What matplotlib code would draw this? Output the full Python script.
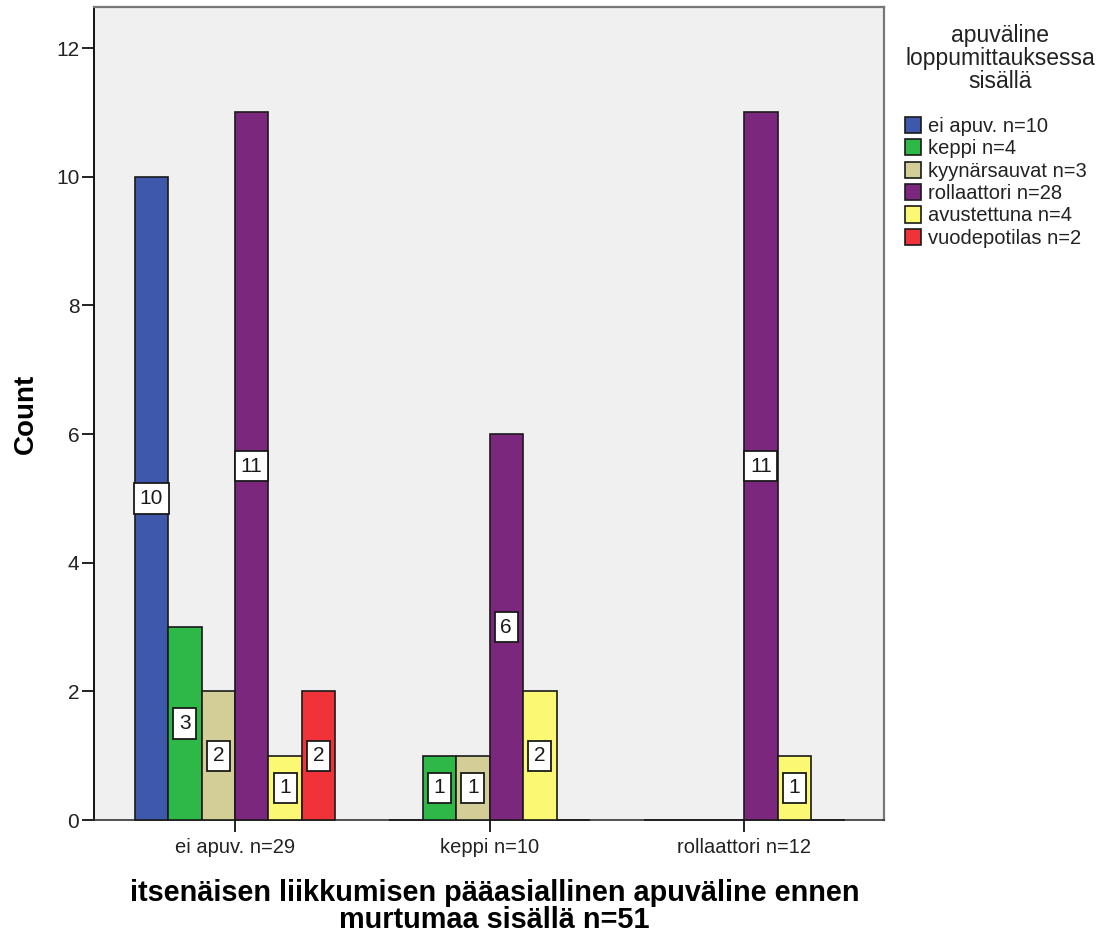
import numpy as np
import matplotlib
matplotlib.use('Agg')
import matplotlib.pyplot as plt

plt.rcParams['font.family'] = ['Liberation Sans', 'DejaVu Sans']

groups = ['ei apuv. n=29', 'keppi n=10', 'rollaattori n=12']
series = ['ei apuv. n=10', 'keppi n=4', 'kyynärsauvat n=3',
          'rollaattori n=28', 'avustettuna n=4', 'vuodepotilas n=2']
counts = {
    'ei apuv. n=10':    [10, 0, 0],
    'keppi n=4':        [3, 1, 0],
    'kyynärsauvat n=3': [2, 1, 0],
    'rollaattori n=28': [11, 6, 11],
    'avustettuna n=4':  [1, 2, 1],
    'vuodepotilas n=2': [2, 0, 0],
}
colors = ['#3E58AC', '#2EB848', '#D3CE97', '#7B277D', '#FBF873', '#EF3338']

W = 0.1316
x = np.arange(len(groups))

fig = plt.figure(figsize=(11.19, 9.34), dpi=100)
ax = fig.add_axes([0.084, 0.122, 0.706, 0.8705])
ax.set_facecolor('#F0F0F0')

for i, s in enumerate(series):
    off = (i - 2.5) * W
    vals = counts[s]
    ax.bar(x + off, vals, W, color=colors[i], edgecolor='#1a1a1a', lw=1.2,
           label=s, zorder=3, clip_on=False)
    for xi, v in zip(x, vals):
        if v > 0:
            ax.text(xi + off, v / 2, str(v), ha='center', va='center', fontsize=15,
                    color='#1a1a1a', zorder=4,
                    bbox=dict(boxstyle='square,pad=0.27', fc='white', ec='#1a1a1a', lw=1.3))

ax.set_xlim(-0.554, 2.55)
ax.set_ylim(0, 12.64)
ax.set_yticks([0, 2, 4, 6, 8, 10, 12])
ax.set_xticks(x)
ax.set_xticklabels(groups)
ax.tick_params(axis='both', length=8.6, width=1.4, color='#222222', labelcolor='#222222')
ax.tick_params(axis='y', labelsize=15, pad=2)
ax.tick_params(axis='x', labelsize=14.5, pad=4)
ax.spines['left'].set_color('#111111'); ax.spines['left'].set_linewidth(1.4)
ax.spines['bottom'].set_color('#333333'); ax.spines['bottom'].set_linewidth(1.2)
for sp in ('top', 'right'):
    ax.spines[sp].set_color('#777777'); ax.spines[sp].set_linewidth(1.6)

ax.set_ylabel('Count', fontsize=20, fontweight='bold')
ax.yaxis.set_label_coords(-0.070, 0.5)
ax.set_xlabel('itsenäisen liikkumisen pääasiallinen apuväline ennen\nmurtumaa sisällä n=51',
              fontsize=20.8, fontweight='bold', linespacing=0.93)
ax.xaxis.set_label_coords(0.507, -0.073)

fig.text(0.894, 0.974, 'apuväline\nloppumittauksessa\nsisällä', ha='center', va='top',
         fontsize=16.5, color='#222222', linespacing=0.98, multialignment='center')
leg = fig.legend(loc='upper left', bbox_to_anchor=(0.8088, 0.875), frameon=False,
                 fontsize=14.5, handlelength=0.8, handleheight=0.85, borderpad=0,
                 borderaxespad=0, handletextpad=0.35, labelspacing=0.17)
for t in leg.get_texts():
    t.set_color('#222222')

fig.savefig('out.png', dpi=100)
